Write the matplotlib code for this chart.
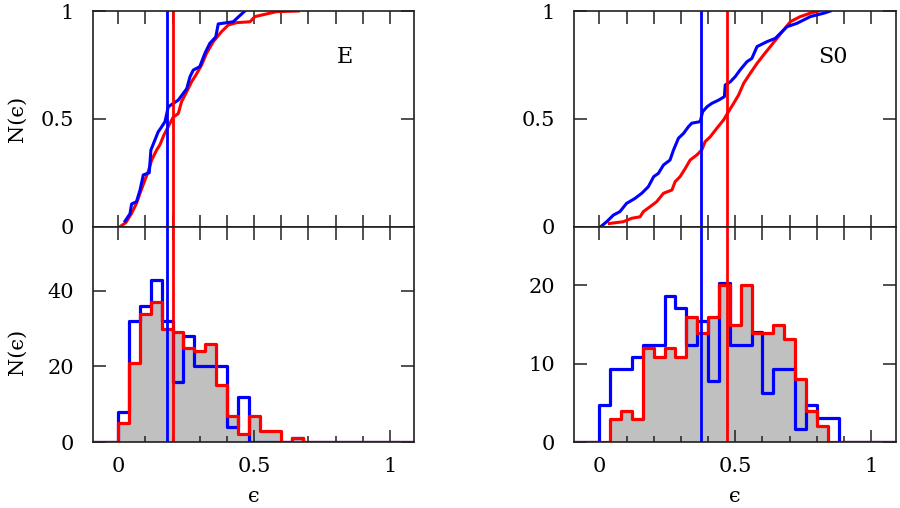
import numpy as np
import matplotlib
matplotlib.use("Agg")
import matplotlib.pyplot as plt
from matplotlib.ticker import MultipleLocator, FixedLocator

plt.rcParams['font.family'] = ['DejaVu Serif', 'DejaVu Sans']
plt.rcParams['mathtext.fontset'] = 'dejavuserif'

# ---------------- data ----------------
bin_width = 0.04

# Elliptical (E) histograms
e_blue_counts = [8, 32, 36, 43, 32, 16, 28, 20, 20, 20, 4, 12, 0, 0, 0, 0, 1]
e_red_counts = [5, 21, 34, 37, 30, 29, 25, 24, 26, 15, 7, 2, 7, 3, 3, 0, 1]
e_blue_median = 0.18
e_red_median = 0.20

# S0 histograms
s0_blue_counts = [4.7, 9.3, 9.3, 10.9, 12.4, 12.4, 18.7, 17.1, 12.4, 15.5, 7.8,
                  20.3, 12.4, 12.4, 14.0, 6.2, 9.3, 9.3, 1.6, 4.7, 3.1, 3.1]
s0_red_counts = [0, 3.0, 4.0, 3.0, 12.0, 10.9, 12.0, 10.9, 16.0, 13.9, 16.0,
                 20.0, 15.0, 20.0, 13.9, 13.9, 14.9, 13.1, 8.0, 3.9, 2.0, 0]
s0_blue_median = 0.375
s0_red_median = 0.47

# Cumulative distributions (E)
e_blue_cdf_x = [0.025, 0.043, 0.049, 0.067, 0.080, 0.092, 0.114, 0.120, 0.147, 0.156,
                0.172, 0.184, 0.221, 0.252, 0.264, 0.276, 0.300, 0.319, 0.337, 0.359,
                0.368, 0.423, 0.466]
e_blue_cdf_y = [0.026, 0.060, 0.105, 0.116, 0.170, 0.240, 0.250, 0.355, 0.440, 0.456,
                0.487, 0.556, 0.587, 0.640, 0.695, 0.726, 0.742, 0.804, 0.850, 0.880,
                0.940, 0.950, 1.000]
e_red_cdf_x = [0.006, 0.028, 0.049, 0.067, 0.080, 0.098, 0.110, 0.123, 0.141, 0.153,
               0.168, 0.190, 0.202, 0.221, 0.233, 0.252, 0.270, 0.288, 0.307, 0.325,
               0.350, 0.380, 0.405, 0.436, 0.485, 0.503, 0.583, 0.663]
e_red_cdf_y = [0.000, 0.019, 0.062, 0.108, 0.155, 0.216, 0.255, 0.309, 0.355, 0.379,
               0.425, 0.479, 0.507, 0.525, 0.580, 0.626, 0.672, 0.708, 0.750, 0.804,
               0.858, 0.904, 0.935, 0.946, 0.950, 0.974, 0.997, 1.000]

# Cumulative distributions (S0)
s0_blue_cdf_x = [0.005, 0.027, 0.052, 0.076, 0.100, 0.131, 0.156, 0.180, 0.200, 0.217,
                 0.236, 0.260, 0.273, 0.291, 0.310, 0.328, 0.340, 0.371, 0.380, 0.396,
                 0.414, 0.439, 0.460, 0.463, 0.482, 0.500, 0.518, 0.543, 0.561, 0.580,
                 0.617, 0.647, 0.666, 0.690, 0.727, 0.776, 0.826, 0.850]
s0_blue_cdf_y = [0.000, 0.023, 0.054, 0.070, 0.108, 0.131, 0.155, 0.185, 0.232, 0.247,
                 0.286, 0.309, 0.356, 0.410, 0.433, 0.464, 0.480, 0.487, 0.533, 0.556,
                 0.572, 0.587, 0.603, 0.657, 0.672, 0.696, 0.727, 0.765, 0.780, 0.835,
                 0.858, 0.873, 0.897, 0.927, 0.943, 0.974, 0.990, 1.000]
s0_red_cdf_x = [0.037, 0.088, 0.119, 0.150, 0.162, 0.187, 0.211, 0.236, 0.267, 0.279,
                0.297, 0.316, 0.334, 0.359, 0.377, 0.389, 0.408, 0.432, 0.457, 0.475,
                0.494, 0.512, 0.531, 0.555, 0.580, 0.604, 0.629, 0.653, 0.678, 0.703,
                0.739, 0.776, 0.807]
s0_red_cdf_y = [0.015, 0.023, 0.039, 0.046, 0.070, 0.093, 0.116, 0.155, 0.170, 0.209,
                0.232, 0.270, 0.309, 0.333, 0.356, 0.394, 0.417, 0.456, 0.495, 0.533,
                0.572, 0.610, 0.665, 0.711, 0.757, 0.796, 0.835, 0.873, 0.912, 0.951,
                0.974, 0.990, 1.000]

top_yticks = [0, 0.5, 1]
top_yticklabels = ["0", "0.5", "1"]
e_hist_yticks = [0, 20, 40]
s0_hist_yticks = [0, 10, 20]
xticks_major = [0, 0.5, 1]
xticklabels = ["0", "0.5", "1"]
panel_labels = ["E", "S0"]

# ---------------- style ----------------
BLUE = '#0000ff'
RED = '#ff0000'
GRAY = '#c0c0c0'
XLIM = (-0.092, 1.09)
TICK_FS = 15

fig = plt.figure(figsize=(9.0, 5.08), dpi=100)

W = 900.0
H = 508.0
def rect(x0, y0, x1, y1):
    return [x0 / W, 1 - y1 / H, (x1 - x0) / W, (y1 - y0) / H]

ax_tl = fig.add_axes(rect(93.3, 11, 414.3, 226.7))
ax_bl = fig.add_axes(rect(93.3, 226.7, 414.3, 442))
ax_tr = fig.add_axes(rect(574.3, 11, 895.7, 226.7))
ax_br = fig.add_axes(rect(574.3, 226.7, 895.7, 442))


def style_axes(ax, yticks, yticklabels, ylim, bottom_labels):
    ax.set_xlim(*XLIM)
    ax.set_ylim(*ylim)
    for s in ax.spines.values():
        s.set_linewidth(1.2)
        s.set_color('#202020')
        s.set_zorder(5)
    ax.yaxis.set_major_locator(FixedLocator(yticks))
    ax.set_yticklabels(yticklabels)
    ax.tick_params(axis='y', which='major', direction='in', length=9.5, width=1.1,
                   left=True, right=True, labelsize=TICK_FS, pad=14, color='#202020')
    ax.tick_params(axis='y', which='minor', left=False, right=False)
    if bottom_labels:
        ax.xaxis.set_major_locator(FixedLocator(xticks_major))
        ax.set_xticklabels(xticklabels)
        ax.xaxis.set_minor_locator(MultipleLocator(0.1))
        ax.tick_params(axis='x', which='major', direction='in', length=9, width=1.1,
                       top=False, bottom=True, labelsize=TICK_FS, pad=11, color='#202020')
        ax.tick_params(axis='x', which='minor', direction='in', length=4.5, width=1.1,
                       top=False, bottom=True, color='#202020')
        sec = ax.secondary_xaxis('top')
        sec.xaxis.set_major_locator(MultipleLocator(0.1))
        sec.tick_params(axis='x', direction='in', length=9, width=1.1,
                        labeltop=False, color='#202020')
        sec.spines['top'].set_visible(False)
    else:
        ax.xaxis.set_major_locator(MultipleLocator(0.1))
        ax.tick_params(axis='x', which='major', direction='in', length=9, width=1.1,
                       top=True, bottom=True, labelbottom=False, color='#202020')


def draw_hist(ax, blue_counts, red_counts, bmed, rmed):
    edges_b = np.arange(len(blue_counts) + 1) * bin_width
    edges_r = np.arange(len(red_counts) + 1) * bin_width
    ax.stairs(red_counts, edges_r, fill=True, color=GRAY, zorder=1, linewidth=0)
    for counts, edges, col, z in ((blue_counts, edges_b, BLUE, 2),
                                  (red_counts, edges_r, RED, 3)):
        xs = np.r_[-0.5, edges, 1.5]
        ys = np.r_[0, counts, 0, 0]
        ax.step(xs, ys, where='post', color=col, lw=2.3, zorder=z)
    ax.axvline(bmed, color=BLUE, lw=2.0, zorder=4)
    ax.axvline(rmed, color=RED, lw=2.0, zorder=4)


def draw_cdf(ax, bx, by, rx, ry, bmed, rmed, label, lx):
    ax.plot(rx, ry, color=RED, lw=2.2, zorder=2)
    ax.plot(bx, by, color=BLUE, lw=2.2, zorder=3)
    ax.axvline(bmed, color=BLUE, lw=2.0, zorder=4)
    ax.axvline(rmed, color=RED, lw=2.0, zorder=4)
    ax.text(lx, 0.787, label, fontsize=16, ha='center', va='center')


draw_cdf(ax_tl, e_blue_cdf_x, e_blue_cdf_y, e_red_cdf_x, e_red_cdf_y,
         e_blue_median, e_red_median, panel_labels[0], 0.834)
draw_cdf(ax_tr, s0_blue_cdf_x, s0_blue_cdf_y, s0_red_cdf_x, s0_red_cdf_y,
         s0_blue_median, s0_red_median, panel_labels[1], 0.858)
draw_hist(ax_bl, e_blue_counts, e_red_counts, e_blue_median, e_red_median)
draw_hist(ax_br, s0_blue_counts, s0_red_counts, s0_blue_median, s0_red_median)

style_axes(ax_tl, top_yticks, top_yticklabels, (0, 1), False)
style_axes(ax_tr, top_yticks, top_yticklabels, (0, 1), False)
style_axes(ax_bl, e_hist_yticks, [str(v) for v in e_hist_yticks], (0, 57), True)
style_axes(ax_br, s0_hist_yticks, [str(v) for v in s0_hist_yticks], (0, 27.5), True)

ax_tl.set_ylabel("N(ϵ)", fontsize=TICK_FS)
ax_tl.yaxis.set_label_coords(-0.238, 0.5)
ax_bl.set_ylabel("N(ϵ)", fontsize=TICK_FS)
ax_bl.yaxis.set_label_coords(-0.238, 0.42)
for ax in (ax_bl, ax_br):
    ax.set_xlabel("ϵ", fontsize=TICK_FS)
    ax.xaxis.set_label_coords(0.5, -0.255)
    ax.xaxis.label.set_va('center')
for ax in (ax_tl, ax_tr):
    ax.yaxis.label.set_va('center')
ax_bl.yaxis.label.set_va('center')

fig.savefig("out.png", dpi=100)
